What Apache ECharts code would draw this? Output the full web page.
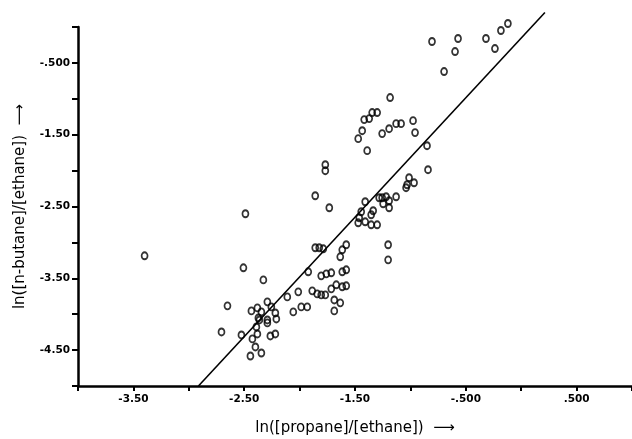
<!DOCTYPE html>
<html>
<head>
<meta charset="utf-8">
<script src="https://cdn.jsdelivr.net/npm/echarts@6/dist/echarts.min.js"></script>
<style>html,body{margin:0;padding:0;background:#fff;}#c{width:632px;height:439px;}</style>
</head>
<body>
<div id="c"></div>
<script>
// ln([propane]/[ethane]) values
const propaneX = [
 -0.805,-0.570,-0.597,-0.696,-0.318,-0.237,-0.183,-0.120,
 -1.183,-1.417,-1.372,-1.345,-1.300,-1.435,-1.471,-1.390,-1.255,-1.192,-1.129,-1.084,-0.976,-0.958,-0.850,-1.768,-1.768,-0.841,-1.012,
 -1.859,-1.732,-2.489,-0.967,-1.030,-1.039,-1.408,-1.282,-1.255,-1.219,-1.192,-1.129,-1.246,-1.192,-1.336,-1.444,-1.354,-1.462,-1.471,-1.408,-1.354,-1.300,-1.201,-1.201,-1.859,-1.823,-1.786,-1.579,-1.615,-1.633,
 -1.922,-1.805,-1.759,-1.714,-1.615,-1.579,-1.886,-1.841,-1.805,-1.768,-1.714,-1.669,-1.615,-1.579,-1.687,-1.633,-1.687,-1.985,-1.931,
 -3.399,-2.507,-2.327,-2.651,-2.705,-2.525,-2.435,-2.381,-2.345,-2.291,-2.255,-2.219,-2.210,-2.372,-2.363,-2.291,-2.291,-2.390,-2.381,-2.426,-2.264,-2.219,-2.399,-2.345,-2.444,-2.111,-2.012,-2.057
];
// ln([n-butane]/[ethane]) values
const butaneY = [
 -0.202,-0.160,-0.342,-0.621,-0.160,-0.300,-0.049,0.049,
 -0.983,-1.290,-1.276,-1.192,-1.192,-1.444,-1.555,-1.722,-1.485,-1.416,-1.346,-1.346,-1.304,-1.471,-1.653,-1.918,-2.001,-1.987,-2.099,
 -2.350,-2.517,-2.601,-2.169,-2.197,-2.238,-2.434,-2.378,-2.378,-2.364,-2.420,-2.364,-2.462,-2.517,-2.559,-2.573,-2.615,-2.657,-2.727,-2.713,-2.755,-2.755,-3.033,-3.243,-3.075,-3.075,-3.089,-3.033,-3.103,-3.201,
 -3.410,-3.466,-3.438,-3.424,-3.410,-3.382,-3.675,-3.717,-3.731,-3.731,-3.647,-3.591,-3.619,-3.605,-3.801,-3.842,-3.954,-3.898,-3.898,
 -3.187,-3.354,-3.522,-3.884,-4.247,-4.289,-3.954,-3.912,-3.968,-3.828,-3.898,-3.982,-4.066,-4.052,-4.080,-4.080,-4.121,-4.177,-4.275,-4.344,-4.303,-4.275,-4.456,-4.540,-4.582,-3.759,-3.689,-3.968
];
// regression line end points
const fitX = [-2.913, 0.214];
const fitY = [-5.0, 0.202];
// tick labels
const xTickValues = [-3.5, -2.5, -1.5, -0.5, 0.5];
const xTickLabels = ['-3.50', '-2.50', '-1.50', '-.500', '.500'];
const yTickValues = [-0.5, -1.5, -2.5, -3.5, -4.5];
const yTickLabels = ['-.500', '-1.50', '-2.50', '-3.50', '-4.50'];

function labelFor(vals, labs) {
  return function (v) {
    for (let i = 0; i < vals.length; i++) if (Math.abs(v - vals[i]) < 1e-6) return labs[i];
    return '';
  };
}

const points = propaneX.map((x, i) => [x, butaneY[i]]);
const fit = fitX.map((x, i) => [x, fitY[i]]);

const chart = echarts.init(document.getElementById('c'), null, {renderer: 'canvas'});
const labelStyle = {color: '#000', fontFamily: 'DejaVu Sans', fontWeight: 'bold', fontSize: 10.5};
chart.setOption({
  animation: false,
  backgroundColor: '#fff',
  grid: {left: 78, right: 0, top: 27, bottom: 53, containLabel: false, outerBoundsMode: 'none'},
  xAxis: {
    type: 'value', min: -4, max: 1, interval: 0.5,
    name: 'ln([propane]/[ethane])  ⟶', nameLocation: 'middle', nameGap: 35,
    nameTextStyle: {color: '#000', fontFamily: 'DejaVu Sans', fontSize: 15},
    axisLine: {show: true, onZero: false, lineStyle: {color: '#000', width: 2.5}},
    axisTick: {show: true, inside: false, length: 5, lineStyle: {color: '#000', width: 2}},
    axisLabel: Object.assign({margin: 8, interval: 0, formatter: labelFor(xTickValues, xTickLabels), showMinLabel: true, showMaxLabel: true}, labelStyle),
    splitLine: {show: false}
  },
  yAxis: {
    type: 'value', min: -5, max: 0, interval: 0.5,
    name: 'ln([n-butane]/[ethane])  ⟶', nameLocation: 'middle', nameGap: 50,
    nameTextStyle: {color: '#000', fontFamily: 'DejaVu Sans', fontSize: 15},
    axisLine: {show: true, onZero: false, lineStyle: {color: '#000', width: 2.5}},
    axisTick: {show: true, inside: false, length: 6, lineStyle: {color: '#000', width: 2}},
    axisLabel: Object.assign({margin: 8, interval: 0, formatter: labelFor(yTickValues, yTickLabels)}, labelStyle),
    splitLine: {show: false}
  },
  series: [
    {
      type: 'scatter', data: points, clip: false,
      symbol: 'circle', symbolSize: [6, 7],
      itemStyle: {color: 'rgba(0,0,0,0)', borderColor: '#000', borderWidth: 1.8}
    },
    {
      type: 'line', data: fit, clip: false, symbol: 'none',
      lineStyle: {color: '#000', width: 1.6}
    }
  ]
});
</script>
</body>
</html>
